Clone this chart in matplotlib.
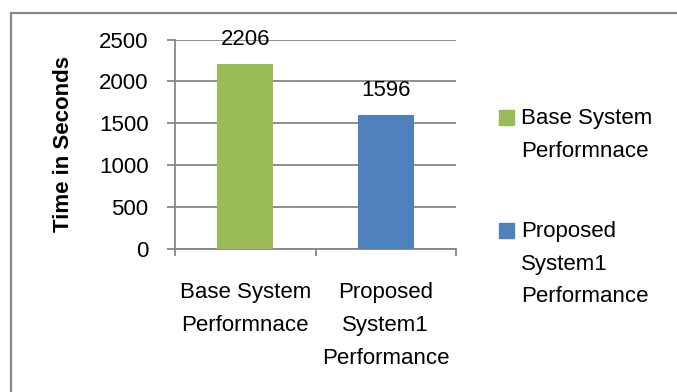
import matplotlib
matplotlib.use("Agg")
import matplotlib.pyplot as plt
from matplotlib.patches import Rectangle

# data
categories = ["Base System\nPerformnace", "Proposed\nSystem1\nPerformance"]
times = [2206, 1596]
bar_colors = ["#9BBB59", "#4F81BD"]
legend_labels = ["Base System\nPerformnace", "Proposed\nSystem1\nPerformance"]
yticks = [0, 500, 1000, 1500, 2000, 2500]

plt.rcParams["font.family"] = ["Liberation Sans", "DejaVu Sans"]
grey = "#878787"
fs = 16

fig = plt.figure(figsize=(6.77, 3.92), dpi=100)
ax = fig.add_axes([175 / 677, 1 - 249 / 392, 281 / 677, 209.5 / 392])

x = list(range(len(categories)))
bars = ax.bar(x, times, width=0.4, color=bar_colors, zorder=3)
for b, v in zip(bars, times):
    ax.annotate(str(v), (b.get_x() + b.get_width() / 2, v), xytext=(0, 10),
                textcoords="offset points", ha="center", va="bottom", fontsize=fs)

ax.set_xlim(-0.5, 1.5)
ax.set_ylim(0, 2500)
ax.set_yticks(yticks)
ax.set_yticklabels([str(t) for t in yticks], fontsize=fs)
ax.tick_params(axis="y", length=6, width=1.3, color=grey, pad=13)

ax.set_xticks(x)
ax.set_xticklabels(categories, fontsize=fs, linespacing=1.75)
ax.set_xticks([-0.5, 0.5, 1.5], minor=True)
ax.tick_params(axis="x", which="major", length=0, pad=24)
ax.tick_params(axis="x", which="minor", length=5, width=1.3, color=grey)

ax.grid(axis="y", color=grey, linewidth=1.3, zorder=0)
for s in ["top", "right"]:
    ax.spines[s].set_visible(False)
for s in ["left", "bottom"]:
    ax.spines[s].set_color(grey)
    ax.spines[s].set_linewidth(1.3)

ax.set_ylabel("Time in Seconds", fontsize=16, fontweight="bold")
ax.yaxis.set_label_coords(74 / 677, 1 - 144 / 392, transform=fig.transFigure)

# legend drawn by hand, squares and wrapped labels
leg_tops = [110, 223]
for lab, col, top in zip(legend_labels, bar_colors, leg_tops):
    fig.patches.append(Rectangle((499 / 677, 1 - (top + 15) / 392), 15 / 677, 15 / 392,
                                 transform=fig.transFigure, color=col))
    fig.text(521 / 677, 1 - (top - 2) / 392, lab, fontsize=fs, va="top", ha="left",
             linespacing=1.72)

# outer chart border
fig.patches.append(Rectangle((11 / 677, -0.2), 1.2, 0.2 + (1 - 13 / 392), transform=fig.transFigure,
                             fill=False, edgecolor=grey, linewidth=1.6))

fig.savefig("out.png", dpi=100)
